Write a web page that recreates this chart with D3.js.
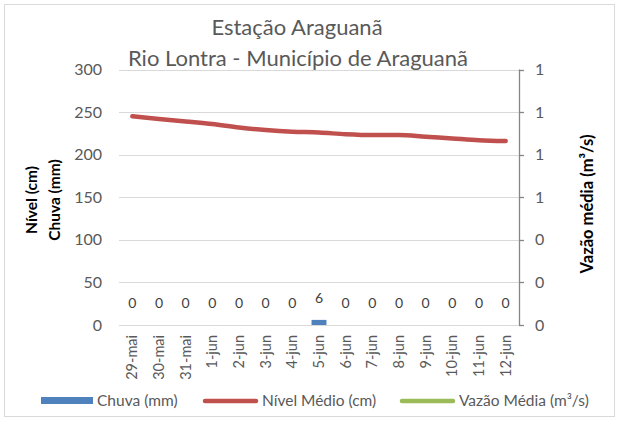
<!DOCTYPE html>
<html lang="pt">
<head>
    <meta charset="UTF-8">
    <title>Estação Araguanã</title>
    <script src="https://d3js.org/d3.v7.min.js"></script>
    <style>
        body { margin: 0; background: #fff; font-family: Lato, "Open Sans", sans-serif; }
        .grid line { stroke: #d9d9d9; stroke-width: 1px; }
        .tick-label { fill: #595959; font-size: 16px; }
        .x-label { fill: #595959; font-size: 14.5px; }
        .axis-title { fill: #000; font-size: 15.5px; font-weight: bold; }
        .data-label { fill: #404040; font-size: 14px; }
        .legend text { fill: #595959; font-size: 15.5px; }
    </style>
</head>
<body>
<svg width="619" height="421"></svg>
<script>
// categories (dates)
const dias = ["29-mai", "30-mai", "31-mai", "1-jun", "2-jun", "3-jun", "4-jun", "5-jun",
              "6-jun", "7-jun", "8-jun", "9-jun", "10-jun", "11-jun", "12-jun"];
// rain in mm
const chuva = [0, 0, 0, 0, 0, 0, 0, 6, 0, 0, 0, 0, 0, 0, 0];
// average level in cm
const nivel = [245, 242, 239, 236, 232, 229, 227, 226, 224, 223, 223, 221, 219, 217, 216];
// average flow (no data shown)
const vazao = [];

const leftTicks = [0, 50, 100, 150, 200, 250, 300];
const rightTicks = [0, 0.2, 0.4, 0.6, 0.8, 1.0, 1.2];

const svg = d3.select("svg");

// chart border
svg.append("rect")
    .attr("x", 4.5).attr("y", 4.5)
    .attr("width", 610).attr("height", 412)
    .attr("fill", "#fff").attr("stroke", "#d9d9d9");

const plot = { left: 119, right: 519, top: 69.5, bottom: 325 };

const x = d3.scaleBand()
    .domain(dias)
    .range([plot.left, plot.right])
    .paddingInner(0.44)
    .paddingOuter(0.22);

const y = d3.scaleLinear().domain([0, 300]).range([plot.bottom, plot.top]);
const y2 = d3.scaleLinear().domain([0, 1.2]).range([plot.bottom, plot.top]);

// gridlines
svg.append("g").attr("class", "grid")
    .selectAll("line")
    .data(leftTicks)
    .enter().append("line")
    .attr("x1", plot.left).attr("x2", plot.right)
    .attr("y1", d => Math.round(y(d)) + 0.5)
    .attr("y2", d => Math.round(y(d)) + 0.5);

// left tick labels
svg.append("g")
    .selectAll("text")
    .data(leftTicks)
    .enter().append("text")
    .attr("class", "tick-label")
    .attr("x", 102)
    .attr("y", d => y(d))
    .attr("dy", "0.35em")
    .attr("text-anchor", "end")
    .text(d => d);

// right axis
const fmt = d3.format(".0f");
svg.append("line")
    .attr("x1", plot.right + 0.5).attr("x2", plot.right + 0.5)
    .attr("y1", plot.top).attr("y2", plot.bottom + 0.5)
    .attr("stroke", "#868686").attr("stroke-width", 1.3);
svg.append("g")
    .selectAll("line")
    .data(rightTicks)
    .enter().append("line")
    .attr("x1", plot.right).attr("x2", plot.right + 5)
    .attr("y1", d => Math.round(y2(d)) + 0.5)
    .attr("y2", d => Math.round(y2(d)) + 0.5)
    .attr("stroke", "#868686").attr("stroke-width", 1.3);
svg.append("g")
    .selectAll("text")
    .data(rightTicks)
    .enter().append("text")
    .attr("class", "tick-label")
    .attr("x", 535)
    .attr("y", d => y2(d))
    .attr("dy", "0.35em")
    .text(d => fmt(d));

// x labels, rotated
svg.append("g")
    .selectAll("text")
    .data(dias)
    .enter().append("text")
    .attr("class", "x-label")
    .attr("transform", d => `translate(${x(d) + x.bandwidth() / 2},335) rotate(-90)`)
    .attr("dy", "0.35em")
    .attr("text-anchor", "end")
    .text(d => d);

// bars
svg.append("g")
    .selectAll("rect")
    .data(chuva)
    .enter().append("rect")
    .attr("x", (d, i) => x(dias[i]))
    .attr("y", d => y(d))
    .attr("width", x.bandwidth())
    .attr("height", d => y(0) - y(d))
    .attr("fill", "#4f81bd");

// bar labels
svg.append("g")
    .selectAll("text")
    .data(chuva)
    .enter().append("text")
    .attr("class", "data-label")
    .attr("x", (d, i) => x(dias[i]) + x.bandwidth() / 2)
    .attr("y", d => y(d) - 17)
    .attr("text-anchor", "middle")
    .text(d => d);

// level line
const line = d3.line()
    .x((d, i) => x(dias[i]) + x.bandwidth() / 2)
    .y(d => y(d))
    .curve(d3.curveMonotoneX);
svg.append("path")
    .datum(nivel)
    .attr("d", line)
    .attr("fill", "none")
    .attr("stroke", "#c0504d")
    .attr("stroke-width", 4.5)
    .attr("stroke-linecap", "round");

// flow line (empty)
const line2 = d3.line()
    .x((d, i) => x(dias[i]) + x.bandwidth() / 2)
    .y(d => y2(d));
svg.append("path")
    .datum(vazao)
    .attr("d", line2)
    .attr("fill", "none")
    .attr("stroke", "#9bbb59")
    .attr("stroke-width", 4.5);

// titles
svg.append("text")
    .attr("x", 297).attr("y", 35)
    .attr("text-anchor", "middle")
    .attr("fill", "#595959")
    .style("font-size", "22px")
    .text("Estação Araguanã");
svg.append("text")
    .attr("x", 298).attr("y", 66)
    .attr("text-anchor", "middle")
    .attr("fill", "#595959")
    .style("font-size", "22px")
    .text("Rio Lontra - Município de Araguanã");

// axis titles
svg.append("text")
    .attr("class", "axis-title")
    .attr("transform", "translate(32,200) rotate(-90)")
    .attr("dy", "0.35em")
    .attr("text-anchor", "middle")
    .text("Nível (cm)");
svg.append("text")
    .attr("class", "axis-title")
    .attr("transform", "translate(55,200) rotate(-90)")
    .attr("dy", "0.35em")
    .attr("text-anchor", "middle")
    .text("Chuva (mm)");
svg.append("text")
    .attr("class", "axis-title")
    .style("font-size", "16.5px")
    .attr("transform", "translate(587,204) rotate(-90)")
    .attr("dy", "0.35em")
    .attr("text-anchor", "middle")
    .text("Vazão média (m³/s)");

// legend
const legend = svg.append("g").attr("class", "legend");
legend.append("rect")
    .attr("x", 41).attr("y", 397).attr("width", 52).attr("height", 7)
    .attr("fill", "#4f81bd");
legend.append("text").attr("x", 97).attr("y", 401).attr("dy", "0.35em").text("Chuva (mm)");
legend.append("line")
    .attr("x1", 205).attr("x2", 256).attr("y1", 401).attr("y2", 401)
    .attr("stroke", "#c0504d").attr("stroke-width", 4.5).attr("stroke-linecap", "round");
legend.append("text").attr("x", 262).attr("y", 401).attr("dy", "0.35em").text("Nível Médio (cm)");
legend.append("line")
    .attr("x1", 402).attr("x2", 453).attr("y1", 401).attr("y2", 401)
    .attr("stroke", "#9bbb59").attr("stroke-width", 4.5).attr("stroke-linecap", "round");
legend.append("text").attr("x", 459).attr("y", 401).attr("dy", "0.35em").text("Vazão Média (m³/s)");
</script>
</body>
</html>
